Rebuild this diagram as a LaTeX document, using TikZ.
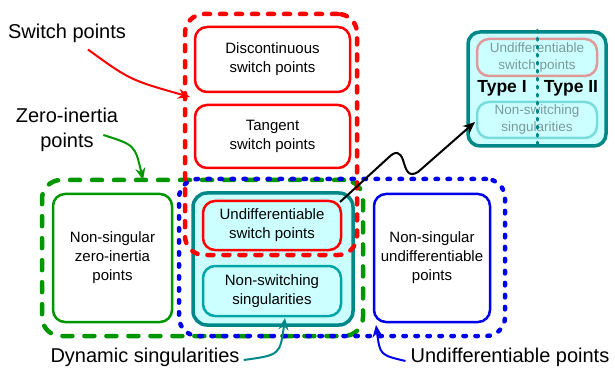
\documentclass[tikz,border=0pt]{standalone}
\usepackage{fontspec}
\setmainfont{Liberation Sans}
\usetikzlibrary{arrows.meta,positioning}

\definecolor{swred}{RGB}{255,0,0}
\definecolor{zigreen}{RGB}{0,150,0}
\definecolor{udblue}{RGB}{0,0,235}
\definecolor{dyteal}{RGB}{0,135,135}
\definecolor{dyline}{RGB}{0,165,165}
\definecolor{dyfill}{RGB}{204,255,255}

\tikzset{
	box/.style={draw,line width=2.5pt,rounded corners=12pt,align=center,
		font=\fontsize{15}{19}\selectfont,inner sep=0pt},
	region/.style={draw,line width=4.5pt,rounded corners=19pt,inner sep=0pt,line cap=round},
	lbl/.style={font=\fontsize{20}{25}\selectfont,align=center,inner sep=0pt},
	lblarrow/.style={line width=2pt,-{Stealth[length=12pt,width=10pt]}},
}

\begin{document}
\begin{tikzpicture}[x=1pt,y=-1pt]
		\useasboundingbox (0,0) rectangle (615,371);
		% dynamic singularities
		\node(dyn)[region,draw=dyteal,fill=dyfill,line width=3.5pt,rounded corners=14pt,
		minimum width=160pt,minimum height=132pt] at (273,259) {};
		\node(udsw)[box,draw=swred,fill=dyfill,minimum width=138pt,minimum height=49pt]
		at (272,225.5) {Undifferentiable\\switch points};
		\node(nsw)[box,draw=dyline,minimum width=138pt,minimum height=50pt]
		at (272,291) {Non-switching\\singularities};
		% switch points
		\node(disc)[box,draw=swred,minimum width=155pt,minimum height=65pt]
		at (272.5,59.5) {Discontinuous\\switch points};
		\node(tang)[box,draw=swred,minimum width=155pt,minimum height=63pt]
		at (272.5,136.5) {Tangent\\switch points};
		% non-singular ones
		\node(nszi)[box,draw=zigreen,minimum width=119pt,minimum height=128pt]
		at (112.5,258) {Non-singular\\zero-inertia\\points};
		\node(nsud)[box,draw=udblue,minimum width=116pt,minimum height=128pt]
		at (432,258) {Non-singular\\undifferentiable\\points};
		% dashed sets
		\node(zireg)[region,draw=zigreen,dash pattern=on 10pt off 12pt,
		minimum width=321pt,minimum height=156pt] at (202.5,258) {};
		\node(udreg)[region,draw=udblue,dash pattern=on 2.5pt off 9.5pt,
		minimum width=326pt,minimum height=157pt] at (342,257.5) {};
		\node(swreg)[region,draw=swred,dash pattern=on 6pt off 10pt,
		minimum width=172pt,minimum height=241pt] at (271,134.5) {};

		% two types
		\node(types)[region,draw=dyteal,fill=dyfill,line width=3.5pt,rounded corners=12pt,
		minimum width=138pt,minimum height=114pt] at (537,89) {};
		\begin{scope}[opacity=.4]
			\node(udsw2)[box,draw=swred,fill=dyfill,minimum width=120pt,minimum height=37pt,
			font=\fontsize{13.5}{17}\selectfont] at (537,57.5) {Undifferentiable\\switch points};
			\node(nsw2)[box,draw=dyline,minimum width=120pt,minimum height=36pt,
			font=\fontsize{13.5}{17}\selectfont] at (537,120) {Non-switching\\singularities};
		\end{scope}
		\draw[dyteal,line width=3pt,line cap=round,dash pattern=on 2pt off 6pt]
		(types.north) -- (types.south);
		\node(type1)[font=\bfseries\fontsize{17.5}{20}\selectfont] at (502,88) {Type I};
		\node(type2)[font=\bfseries\fontsize{17.5}{20}\selectfont] at (571,88) {Type II};

		% labels
		\node(swlbl)[lbl] at (67,33) {Switch points};
		\node(zilbl)[lbl] at (67,130) {Zero-inertia\\points};
		\node(dylbl)[lbl] at (145,357) {Dynamic singularities};
		\node(udlbl)[lbl] at (510,357) {Undifferentiable points};

		\coordinate (swtip) at (190,97);
		\coordinate (zitip) at (143,180);
		\coordinate (dytip) at (285,318);
		\coordinate (udtip) at (376,325);
		\coordinate (zig) at (340,202);
		\coordinate (zigtip) at (475,122);

		\draw[lblarrow,swred] ([shift={(21,7)}]swlbl.south) .. controls (130,80) .. (swtip);
		\draw[lblarrow,zigreen] ([shift={(-15,5)}]zilbl.east) .. controls (135,145) .. (zitip);
		\draw[lblarrow,dyteal] ([shift={(4,3)}]dylbl.east) .. controls (280,355) .. (dytip);
		\draw[lblarrow,udblue] ([shift={(-5,4)}]udlbl.west) .. controls (380,355) .. (udtip);

		\draw[line width=2pt,-{Stealth[length=12pt,width=10pt]}] (zig) -- (388,158)
		.. controls (396,150) and (400,152) .. (403,160)
		.. controls (406,170) and (408,178) .. (418,172) -- (zigtip);
	\end{tikzpicture}
\end{document}
